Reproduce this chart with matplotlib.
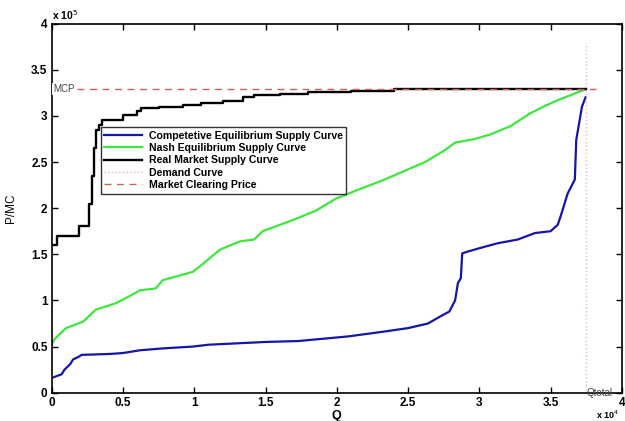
import matplotlib
matplotlib.use("Agg")
import matplotlib.pyplot as plt
import numpy as np

plt.rcParams['font.family'] = ['Liberation Sans', 'DejaVu Sans']

# quantities in units of 1e4, prices in units of 1e5
comp_q = [0, 0.07, 0.09, 0.13, 0.15, 0.19, 0.21, 0.41, 0.50, 0.62, 0.78, 0.99, 1.10, 1.50, 1.73,
          2.08, 2.32, 2.50, 2.64, 2.73, 2.79, 2.83, 2.85, 2.87, 2.88, 2.92, 3.01, 3.13, 3.27,
          3.39, 3.50, 3.55, 3.57, 3.62, 3.67, 3.68, 3.70, 3.72, 3.745]
comp_p = [0.16, 0.20, 0.25, 0.31, 0.36, 0.39, 0.41, 0.42, 0.43, 0.46, 0.48, 0.50, 0.52, 0.55, 0.56,
          0.61, 0.66, 0.70, 0.75, 0.83, 0.88, 1.00, 1.19, 1.24, 1.51, 1.53, 1.57, 1.62, 1.66,
          1.73, 1.75, 1.82, 1.91, 2.16, 2.31, 2.74, 2.92, 3.10, 3.20]

nash_q = [0, 0.02, 0.10, 0.22, 0.31, 0.45, 0.55, 0.62, 0.73, 0.78, 0.99, 1.04, 1.18, 1.32, 1.42,
          1.48, 1.69, 1.85, 1.99, 2.15, 2.32, 2.47, 2.62, 2.75, 2.83, 2.97, 3.08, 3.22, 3.36,
          3.45, 3.55, 3.65, 3.745]
nash_p = [0.52, 0.58, 0.70, 0.77, 0.90, 0.97, 1.05, 1.11, 1.13, 1.22, 1.31, 1.37, 1.55, 1.64, 1.66,
          1.75, 1.87, 1.97, 2.10, 2.20, 2.30, 2.40, 2.50, 2.62, 2.71, 2.75, 2.80, 2.89, 3.03,
          3.10, 3.17, 3.23, 3.29]

real_q = [0, 0.04, 0.19, 0.26, 0.285, 0.30, 0.31, 0.33, 0.35, 0.50, 0.60, 0.63, 0.75, 0.92, 1.05,
          1.20, 1.34, 1.42, 1.60, 1.80, 2.10, 2.40, 3.745]
real_p = [1.60, 1.70, 1.81, 2.05, 2.35, 2.65, 2.85, 2.90, 2.96, 3.01, 3.05, 3.09, 3.10, 3.12, 3.14,
          3.16, 3.20, 3.23, 3.24, 3.26, 3.27, 3.29, 3.29]

q_total = 3.745
demand_top = 3.79
mcp = 3.29
mcp_end = 3.82

fig = plt.figure(figsize=(6.25, 4.21), dpi=100)
ax = fig.add_axes([0.0827, 0.0672, 0.9123, 0.8768])

ax.plot(comp_q, comp_p, color='#1515a8', lw=1.6,
        label='Competetive Equilibrium Supply Curve')
ax.plot(nash_q, nash_p, color='#3ee63e', lw=1.6,
        label='Nash Equilibrium Supply Curve')
ax.plot(real_q, real_p, drawstyle='steps-post', color='black', lw=1.7,
        label='Real Market Supply Curve')
ax.plot([q_total, q_total], [0, demand_top], ls=':', color='#e0b8b8', lw=1.0,
        label='Demand Curve')
ax.plot([0, mcp_end], [mcp, mcp], ls='--', color='#d06060', lw=1.0, dashes=(5, 4),
        label='Market Clearing Price')

ax.text(0.01, mcp, 'MCP', fontsize=7, color='#444444', va='center', ha='left',
        bbox=dict(facecolor='white', edgecolor='none', pad=0.5))
ax.text(q_total + 0.01, 0.0, 'Qtotal', fontsize=7, color='#444444', va='center', ha='left')

ax.set_xlim(0, 4)
ax.set_ylim(0, 4)
ax.set_xticks(np.arange(0, 4.01, 0.5))
ax.set_yticks(np.arange(0, 4.01, 0.5))
ax.set_xticklabels(['0', '0.5', '1', '1.5', '2', '2.5', '3', '3.5', '4'])
ax.set_yticklabels(['0', '0.5', '1', '1.5', '2', '2.5', '3', '3.5', '4'])
ax.tick_params(direction='in', top=True, right=True, length=4, width=1, labelsize=8.5, pad=3)
for lab in ax.get_xticklabels() + ax.get_yticklabels():
    lab.set_fontweight('bold')
for s in ax.spines.values():
    s.set_linewidth(1.2)

ax.set_xlabel('Q', fontsize=9, fontweight='bold', labelpad=1)
ax.set_ylabel('P/MC', fontsize=8.5, labelpad=10)
ax.text(0.0, 1.003, r'x 10$^5$', transform=ax.transAxes, fontsize=7.5, fontweight='bold',
        ha='left', va='bottom')
ax.text(0.996, -0.042, r'x 10$^4$', transform=ax.transAxes, fontsize=6.5, fontweight='bold',
        ha='right', va='top')

leg = ax.legend(loc='upper left', bbox_to_anchor=(0.086, 0.72),
                prop={'weight': 'bold', 'size': 7.6}, frameon=True, fancybox=False,
                handlelength=3.6, handletextpad=0.6, labelspacing=0.22, borderpad=0.35,
                borderaxespad=0)
leg.get_frame().set_edgecolor('black')
leg.get_frame().set_linewidth(1.0)

fig.savefig('out.png', dpi=100)
